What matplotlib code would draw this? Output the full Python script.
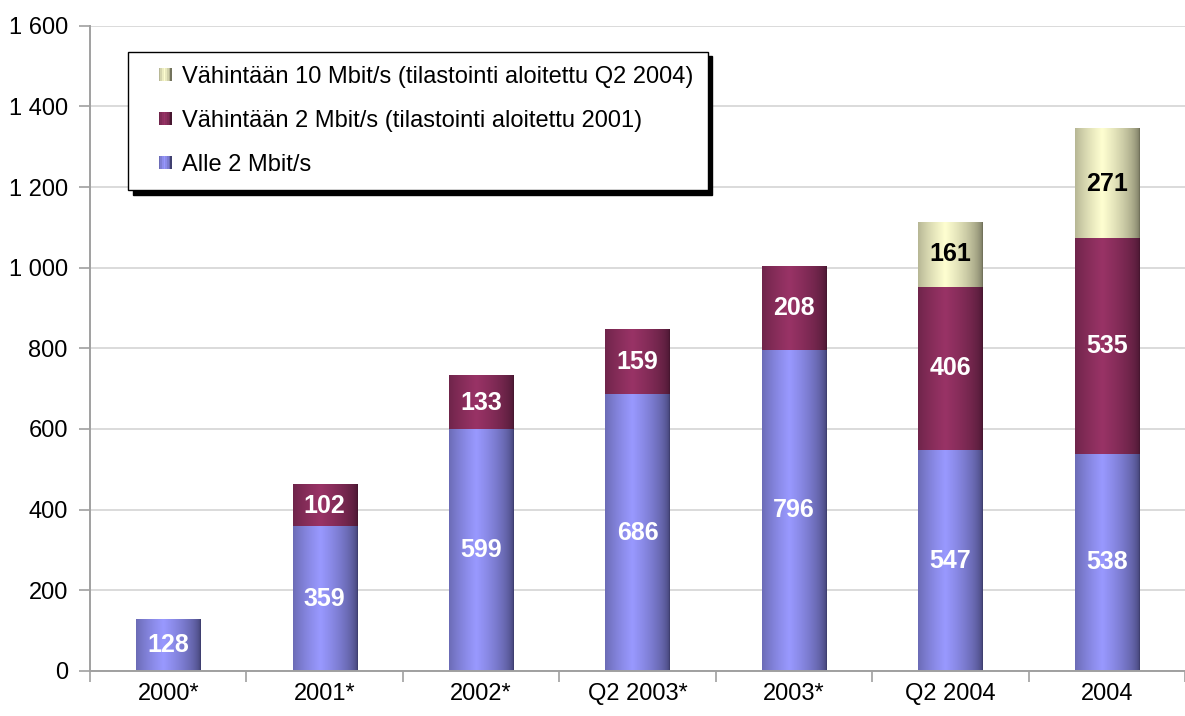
import numpy as np
import matplotlib.pyplot as plt
from matplotlib.patches import Rectangle
from matplotlib.legend_handler import HandlerBase

plt.rcParams['font.family'] = ['Liberation Sans', 'DejaVu Sans']

# Data
categories = ['2000*', '2001*', '2002*', 'Q2 2003*', '2003*', 'Q2 2004', '2004']
alle2 = [128, 359, 599, 686, 796, 547, 538]
min2 = [0, 102, 133, 159, 208, 406, 535]
min10 = [0, 0, 0, 0, 0, 161, 271]
series_names = ['Alle 2 Mbit/s',
                'Vähintään 2 Mbit/s (tilastointi aloitettu 2001)',
                'Vähintään 10 Mbit/s (tilastointi aloitettu Q2 2004)']

# (tumma reuna, kirkas keskikohta)
palette = [((0.25, 0.25, 0.44), (0.60, 0.60, 1.00)),
           ((0.28, 0.09, 0.19), (0.60, 0.20, 0.40)),
           ((0.45, 0.45, 0.36), (1.00, 1.00, 0.82))]
label_colors = ['white', 'white', 'black']


def gradient(dark, bright, n=64):
    t = np.linspace(0, 1, n)
    w = np.clip(1 - np.abs(t - 0.42) / 0.58, 0, 1) ** 0.55
    d, b = np.array(dark), np.array(bright)
    return d[None, :] * (1 - w[:, None]) + b[None, :] * w[:, None]


fig = plt.figure(figsize=(11.85, 7.16), dpi=100)
ax = fig.add_axes([0.076, 0.063, 0.924, 0.901])

x = np.arange(len(categories))
bottoms = np.zeros(len(categories))
for vals, (dark, bright), lc in zip([alle2, min2, min10], palette, label_colors):
    vals = np.array(vals, dtype=float)
    bars = ax.bar(x, vals, width=0.41, bottom=bottoms, color='none', linewidth=0)
    grad = gradient(dark, bright)[None, :, :]
    for bar, v in zip(bars, vals):
        if v <= 0:
            continue
        x0, y0 = bar.get_x(), bar.get_y()
        ax.imshow(grad, extent=(x0, x0 + bar.get_width(), y0, y0 + v),
                  aspect='auto', interpolation='bilinear', zorder=2)
        ax.text(x0 + bar.get_width() / 2, y0 + v / 2, f'{int(v)}', ha='center', va='center',
                color=lc, fontsize=18, fontweight='bold', zorder=3)
    bottoms += vals

ax.set_xlim(-0.5, len(categories) - 0.5)
ax.set_ylim(0, 1600)
ax.set_yticks(np.arange(0, 1601, 200))
ax.set_yticklabels([f'{v:,}'.replace(',', ' ') for v in range(0, 1601, 200)])
ax.yaxis.grid(True, color='#d4d4d4', linewidth=1.2, zorder=0)
ax.set_axisbelow(True)
ax.set_xticks(x)
ax.set_xticklabels(categories)
ax.set_xticks(np.arange(-0.5, len(categories), 1), minor=True)
ax.tick_params(axis='x', which='major', length=0, pad=9, labelsize=17)
ax.tick_params(axis='x', which='minor', length=8, color='#a0a0a0', width=1.2)
ax.tick_params(axis='y', length=8, color='#a0a0a0', width=1.2, labelsize=17, pad=8)
for s in ['top', 'right']:
    ax.spines[s].set_visible(False)
for s in ['left', 'bottom']:
    ax.spines[s].set_color('#a0a0a0')
    ax.spines[s].set_linewidth(1.4)


class GradientHandler(HandlerBase):
    def __init__(self, dark, bright):
        super().__init__()
        self.cols = gradient(dark, bright, n=8)

    def create_artists(self, legend, orig_handle, xdescent, ydescent, width, height, fontsize, trans):
        n = len(self.cols)
        s = height * 0.8
        x0 = -xdescent + width - s
        y0 = -ydescent + (height - s) / 2
        arts = []
        for i, c in enumerate(self.cols):
            arts.append(Rectangle((x0 + i * s / n, y0), s / n, s,
                                  facecolor=c, edgecolor='none', transform=trans))
        return arts


handles = [Rectangle((0, 0), 1, 1) for _ in range(3)]
hmap = {h: GradientHandler(*p) for h, p in zip(handles, palette)}
leg = ax.legend(handles[::-1], series_names[::-1], handler_map=hmap, loc='upper left',
                bbox_to_anchor=(0.035, 0.96), fontsize=17, frameon=True, fancybox=False,
                shadow={'color': 'black', 'alpha': 1, 'ox': 3.5, 'oy': -3.5},
                edgecolor='black', borderpad=0.6, labelspacing=0.93, handlelength=1.25,
                handletextpad=0.42, borderaxespad=0, framealpha=1)
leg.get_frame().set_linewidth(1.0)
leg.set_zorder(5)

fig.savefig('out.png', dpi=100)
